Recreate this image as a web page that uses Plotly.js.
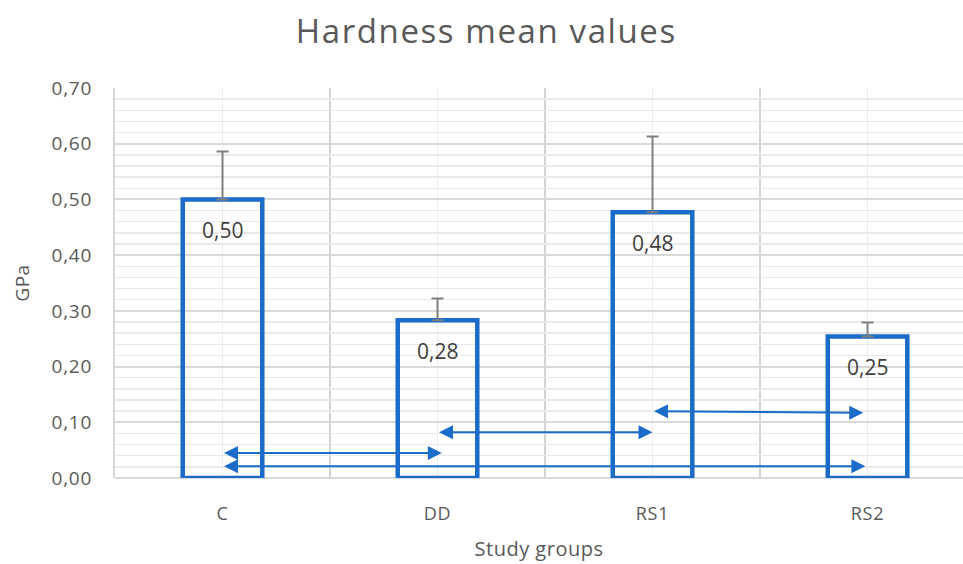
<!DOCTYPE html>
<html>
<head>
<meta charset="utf-8">
<script src="https://cdn.plot.ly/plotly-3.0.1.min.js"></script>
<style>
html,body{margin:0;padding:0;background:#fff}
#chart{width:963px;height:564px}
#chart .gtitle{letter-spacing:1.6px}
#chart .xtick text,#chart .ytick text{letter-spacing:0.8px}
#chart .xtitle,#chart .ytitle{letter-spacing:0.5px}
</style>
</head>
<body>
<div id="chart"></div>
<script>
const categories = ["C", "DD", "RS1", "RS2"];
const meanValues = [0.50, 0.283, 0.477, 0.254];
const errorPlus = [0.086, 0.039, 0.136, 0.025];
// comparison arrows: [from group index, from value, to group index, to value]
const arrowFromX = [0.0, 0.0, 1.0, 2.0];
const arrowFromY = [0.045, 0.021, 0.082, 0.120];
const arrowToX = [1.02, 2.99, 2.0, 2.98];
const arrowToY = [0.045, 0.021, 0.082, 0.117];

const blue = '#1b6bc8';
const idx = categories.map((c, i) => i);
const FONT = 'Open Sans, sans-serif';

const trace = {
  type: 'bar',
  x: idx,
  y: meanValues,
  width: 0.37,
  marker: {color: 'rgba(0,0,0,0)', line: {color: blue, width: 4.5}},
  error_y: {type: 'data', symmetric: false, array: errorPlus, arrayminus: meanValues.map(() => 0),
            color: '#7f7f7f', thickness: 2, width: 6},
  hoverinfo: 'skip'
};

const annotations = [];
meanValues.forEach((v, i) => {
  annotations.push({
    x: i, y: v, xref: 'x', yref: 'y', yanchor: 'top', yshift: -15,
    text: v.toFixed(2).replace('.', ','), showarrow: false,
    font: {family: FONT, size: 21, color: '#404040'}
  });
});
arrowFromX.forEach((x0, i) => {
  annotations.push({
    x: arrowToX[i], y: arrowToY[i], ax: x0, ay: arrowFromY[i],
    xref: 'x', yref: 'y', axref: 'x', ayref: 'y',
    text: '', showarrow: true, arrowside: 'end+start',
    arrowhead: 2, startarrowhead: 2, arrowsize: 1.4, startarrowsize: 1.4,
    arrowwidth: 2, arrowcolor: blue, standoff: 0, startstandoff: 0
  });
});

const layout = {
  width: 963, height: 564,
  margin: {l: 115, r: 0, t: 88, b: 86},
  paper_bgcolor: '#fff', plot_bgcolor: '#fff',
  separators: ',.',
  showlegend: false,
  title: {text: 'Hardness mean values', x: 0.505, xanchor: 'center', y: 0.945, yanchor: 'middle',
          font: {family: FONT, size: 33, color: '#595959'}},
  xaxis: {
    type: 'linear', range: [-0.5, 3.444], tickvals: idx, ticktext: categories,
    showgrid: true, gridcolor: '#ececec', gridwidth: 1.5,
    ticks: '', zeroline: false, showline: false, ticklabelstandoff: 23,
    tickfont: {family: FONT, size: 18, color: '#595959'},
    minor: {tick0: 0.5, dtick: 1, showgrid: true, gridcolor: '#d4d4d4', gridwidth: 2, ticks: ''},
    title: {text: 'Study groups', standoff: 17, font: {family: FONT, size: 20, color: '#595959'}},
    fixedrange: true
  },
  yaxis: {
    range: [0, 0.7], dtick: 0.1, tickformat: '.2f',
    showgrid: true, gridcolor: '#d9d9d9', gridwidth: 2,
    minor: {dtick: 0.02, showgrid: true, gridcolor: '#e9e9e9', gridwidth: 1.5, ticks: ''},
    zeroline: true, zerolinecolor: '#d9d9d9', zerolinewidth: 2,
    showline: true, linecolor: '#d6d6d6', linewidth: 2, mirror: false,
    ticks: '', ticklen: 0, ticklabelstandoff: 17,
    tickfont: {family: FONT, size: 19, color: '#595959'},
    title: {text: 'GPa', standoff: 20, font: {family: FONT, size: 19, color: '#595959'}},
    fixedrange: true
  },
  annotations: annotations
};

Plotly.newPlot('chart', [trace], layout, {displayModeBar: false, staticPlot: true});
</script>
</body>
</html>
